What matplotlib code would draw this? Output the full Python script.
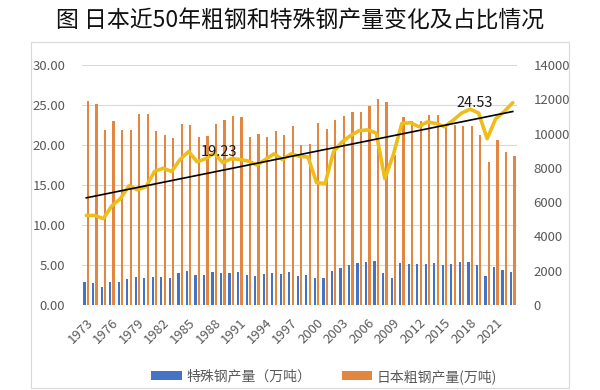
import numpy as np
import matplotlib
matplotlib.use("Agg")
import matplotlib.pyplot as plt
from matplotlib.patches import Rectangle

plt.rcParams['font.family'] = ['Noto Sans CJK SC', 'DejaVu Sans']

years = list(range(1973, 2024))

# 日本粗钢产量 (万吨)
crude = [11930, 11710, 10230, 10740, 10240, 10210, 11170, 11140, 10170, 9950,
         9720, 10560, 10530, 9830, 9850, 10570, 10790, 11030, 10960, 9810,
         9960, 9830, 10160, 9900, 10450, 9350, 9420, 10640, 10290, 10770,
         11050, 11270, 11250, 11620, 12020, 11870, 8750, 10960, 10760, 10720,
         11060, 11070, 10510, 10480, 10470, 10430, 9930, 8320, 9630, 8920,
         8700]

# 特殊钢产量 (万吨)
special = [1320, 1270, 1070, 1320, 1340, 1500, 1610, 1600, 1660, 1660,
           1600, 1890, 1980, 1750, 1730, 1940, 1890, 1850, 1920, 1750,
           1710, 1790, 1890, 1800, 1940, 1720, 1750, 1590, 1560, 2000,
           2180, 2330, 2430, 2510, 2570, 1890, 1590, 2470, 2390, 2390,
           2410, 2470, 2330, 2390, 2490, 2510, 2330, 1710, 2200, 2040,
           1900]

# 特殊钢占比 (%)
share = [11.2, 11.2, 10.8, 12.4, 13.3, 14.9, 14.4, 14.8, 16.7, 17.1,
         16.7, 18.2, 19.2, 17.9, 18.3, 19.0, 17.8, 18.3, 18.2, 18.0,
         17.5, 18.2, 18.9, 18.2, 18.9, 18.6, 18.5, 15.3, 15.2, 19.2,
         20.4, 21.2, 21.8, 21.9, 21.5, 15.8, 18.8, 22.7, 22.8, 22.3,
         22.9, 22.7, 22.3, 23.1, 24.0, 24.5, 24.0, 20.8, 23.3, 24.2,
         25.3]

# trend line end values (first / last year)
trend_ends = [13.4, 24.2]

# value labels: text, year position, height on left axis
labels = [("19.23", 1988.6, 19.1), ("24.53", 2018.5, 25.3)]

tick_years = years[:49:3]

blue = '#4472C4'
orange = '#E3863F'
gold = '#EDBD1A'
grey = '#595959'

fig = plt.figure(figsize=(6, 3.9), dpi=100)
fig.patch.set_facecolor('white')

fig.patches.append(Rectangle((0.052, 0.006), 0.897, 0.887, transform=fig.transFigure,
                             fill=False, edgecolor='#D9D9D9', lw=0.8))

fig.text(0.5, 0.947, "图 日本近50年粗钢和特殊钢产量变化及占比情况",
         ha='center', va='center', fontsize=16.5, color='#111111')

rect = [0.1367, 0.218, 0.725, 0.615]
ax = fig.add_axes(rect)          # left scale + grid
axb = ax.twinx()                 # bars, right scale
axl = ax.twinx()                 # line on top

x = np.arange(len(years))

ax.set_ylim(0, 30)
ax.set_yticks(np.arange(0, 31, 5))
ax.set_yticklabels([f"{v:.2f}" for v in np.arange(0, 31, 5)])
ax.yaxis.grid(True, color='#D9D9D9', lw=0.8)
ax.set_axisbelow(True)

b1 = axb.bar(x - 0.2, special, width=0.26, color=blue, label='特殊钢产量（万吨）')
b2 = axb.bar(x + 0.2, crude, width=0.26, color=orange, label='日本粗钢产量(万吨)')
axb.set_ylim(0, 14000)
axb.set_yticks(np.arange(0, 14001, 2000))

axl.plot(x, share, color=gold, lw=2.6, solid_joinstyle='round', solid_capstyle='round')
axl.plot([x[0], x[-1]], trend_ends, color='black', lw=1.2)
for txt, yr, val in labels:
    axl.text(yr - years[0], val, txt, ha='center', va='center',
             fontsize=10.5, color='#1a1a1a')
axl.set_ylim(0, 30)
axl.set_yticks([])

for a in (ax, axb, axl):
    a.set_xlim(-0.5, len(years) - 0.5)
    for s in a.spines.values():
        s.set_visible(False)
    a.patch.set_visible(False)

ax.tick_params(axis='y', length=0, pad=12, labelsize=9.5, labelcolor=grey)
axb.tick_params(axis='y', length=0, pad=12, labelsize=9.5, labelcolor=grey)

ax.set_xticks([years.index(y) for y in tick_years])
ax.set_xticklabels([str(y) for y in tick_years], rotation=45, ha='right',
                   rotation_mode='anchor')
ax.tick_params(axis='x', length=0, pad=8, labelsize=9.5, labelcolor=grey)
axb.tick_params(axis='x', labelbottom=False, length=0)
axl.tick_params(axis='x', labelbottom=False, length=0)

fig.legend(handles=[b1, b2], loc='center', bbox_to_anchor=(0.54, 0.035), ncol=2,
           frameon=False, fontsize=10, handlelength=2.2, handleheight=0.6,
           columnspacing=2.2, handletextpad=0.3, labelcolor=grey)

fig.savefig('out.png', dpi=100)
